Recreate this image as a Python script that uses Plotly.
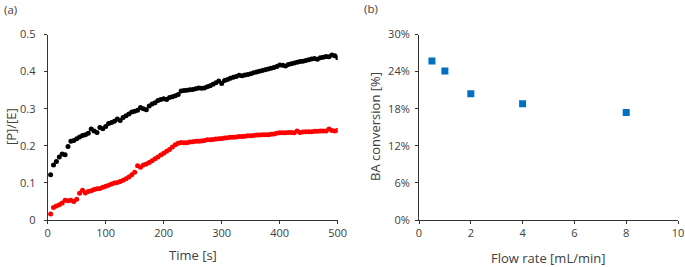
import plotly.graph_objects as go

# ---- data ----
time_s = list(range(5, 501, 5))
black_pe = [0.122, 0.148, 0.158, 0.170, 0.178, 0.176, 0.198, 0.212, 0.214, 0.219,
            0.224, 0.228, 0.230, 0.234, 0.245, 0.240, 0.236, 0.249, 0.246, 0.252,
            0.260, 0.263, 0.266, 0.272, 0.268, 0.276, 0.281, 0.286, 0.291, 0.293,
            0.296, 0.303, 0.300, 0.297, 0.307, 0.313, 0.316, 0.322, 0.325, 0.327,
            0.325, 0.330, 0.332, 0.335, 0.338, 0.348, 0.349, 0.350, 0.351, 0.352,
            0.354, 0.356, 0.355, 0.356, 0.359, 0.362, 0.366, 0.370, 0.375, 0.368,
            0.376, 0.379, 0.382, 0.385, 0.387, 0.390, 0.389, 0.391, 0.392, 0.394,
            0.397, 0.399, 0.401, 0.403, 0.405, 0.407, 0.409, 0.411, 0.414, 0.418,
            0.417, 0.415, 0.419, 0.421, 0.423, 0.425, 0.427, 0.428, 0.430, 0.432,
            0.434, 0.435, 0.433, 0.437, 0.439, 0.441, 0.440, 0.445, 0.443, 0.437]
red_pe = [0.016, 0.034, 0.038, 0.041, 0.046, 0.053, 0.052, 0.053, 0.050, 0.056,
          0.072, 0.080, 0.073, 0.077, 0.079, 0.082, 0.084, 0.085, 0.088, 0.091,
          0.094, 0.097, 0.100, 0.101, 0.104, 0.107, 0.111, 0.116, 0.122, 0.129,
          0.146, 0.142, 0.148, 0.151, 0.155, 0.160, 0.165, 0.170, 0.175, 0.180,
          0.185, 0.190, 0.197, 0.203, 0.207, 0.209, 0.208, 0.208, 0.210, 0.211,
          0.212, 0.212, 0.213, 0.214, 0.216, 0.216, 0.217, 0.218, 0.219, 0.220,
          0.221, 0.222, 0.223, 0.223, 0.224, 0.225, 0.225, 0.226, 0.227, 0.227,
          0.228, 0.229, 0.229, 0.230, 0.230, 0.230, 0.231, 0.232, 0.234, 0.235,
          0.235, 0.235, 0.236, 0.236, 0.235, 0.240, 0.236, 0.237, 0.238, 0.238,
          0.238, 0.239, 0.239, 0.240, 0.240, 0.240, 0.245, 0.241, 0.240, 0.242]

flow_rate = [0.5, 1, 2, 4, 8]
ba_conversion = [0.257, 0.241, 0.204, 0.188, 0.174]

left_xticks = [0, 100, 200, 300, 400, 500]
left_yticks = [0, 0.1, 0.2, 0.3, 0.4, 0.5]
left_ylabels = ["0", "0.1", "0.2", "0.3", "0.4", "0.5"]
right_xticks = [0, 2, 4, 6, 8, 10]
right_yticks = [0, 0.06, 0.12, 0.18, 0.24, 0.30]
right_ylabels = ["0%", "6%", "12%", "18%", "24%", "30%"]

FONT = "Open Sans"
TXT = "#404040"
AX = "#333333"
W, H = 685, 267

fig = go.Figure()
fig.add_trace(go.Scatter(x=time_s, y=black_pe, mode="markers",
                         marker=dict(color="black", size=5, line=dict(width=0)),
                         xaxis="x", yaxis="y", showlegend=False))
fig.add_trace(go.Scatter(x=time_s, y=red_pe, mode="markers",
                         marker=dict(color="#FF0000", size=5, line=dict(width=0)),
                         xaxis="x", yaxis="y", showlegend=False))
fig.add_trace(go.Scatter(x=flow_rate, y=ba_conversion, mode="markers",
                         marker=dict(color="#0070C0", size=7, symbol="square", line=dict(width=0)),
                         xaxis="x2", yaxis="y2", showlegend=False))

axis_common = dict(showgrid=False, zeroline=False, showline=True, linecolor=AX,
                   linewidth=1, ticks="outside", ticklen=3, tickcolor=AX,
                   automargin=False,
                   tickfont=dict(family=FONT, size=11, color=TXT))

ydom = [1 - 220 / H, 1 - 34.5 / H]

fig.update_layout(
    width=W, height=H, autosize=False,
    margin=dict(l=0, r=0, t=0, b=0, pad=0),
    paper_bgcolor="white", plot_bgcolor="white",
    font=dict(family=FONT, color=TXT),
    xaxis=dict(**axis_common, domain=[47.7 / W, 337.7 / W], range=[0, 500],
               tickvals=left_xticks, anchor="y"),
    yaxis=dict(**axis_common, domain=ydom, range=[0, 0.5],
               tickvals=left_yticks, ticktext=left_ylabels, anchor="x",
               ticklabelstandoff=6),
    xaxis2=dict(**axis_common, domain=[419 / W, 678 / W], range=[0, 10],
                tickvals=right_xticks, anchor="y2", ticklabeloverflow="allow"),
    yaxis2=dict(**axis_common, domain=ydom, range=[0, 0.30],
                tickvals=right_yticks, ticktext=right_ylabels, anchor="x2",
                ticklabelstandoff=3),
)

def ann(text, px, py, size=13, angle=0, xanchor="center"):
    return dict(text=text, x=px / W, y=1 - py / H, xref="paper", yref="paper",
                xanchor=xanchor, yanchor="middle", showarrow=False, textangle=angle,
                font=dict(family=FONT, size=size, color=TXT))

fig.layout.annotations = [
    ann("(a)", 2, 10, size=11.5, xanchor="left"),
    ann("(b)", 362, 9, size=11.5, xanchor="left"),
    ann("Time [s]", 193, 255),
    ann("[P]/[E]", 11, 127, angle=-90),
    ann("Flow rate [mL/min]", 548, 258),
    ann("BA conversion [%]", 375, 127, angle=-90),
]

fig.write_html("out.html",
               config={"displayModeBar": False},
               post_script="document.body.style.margin='0';document.body.style.padding='0';")
